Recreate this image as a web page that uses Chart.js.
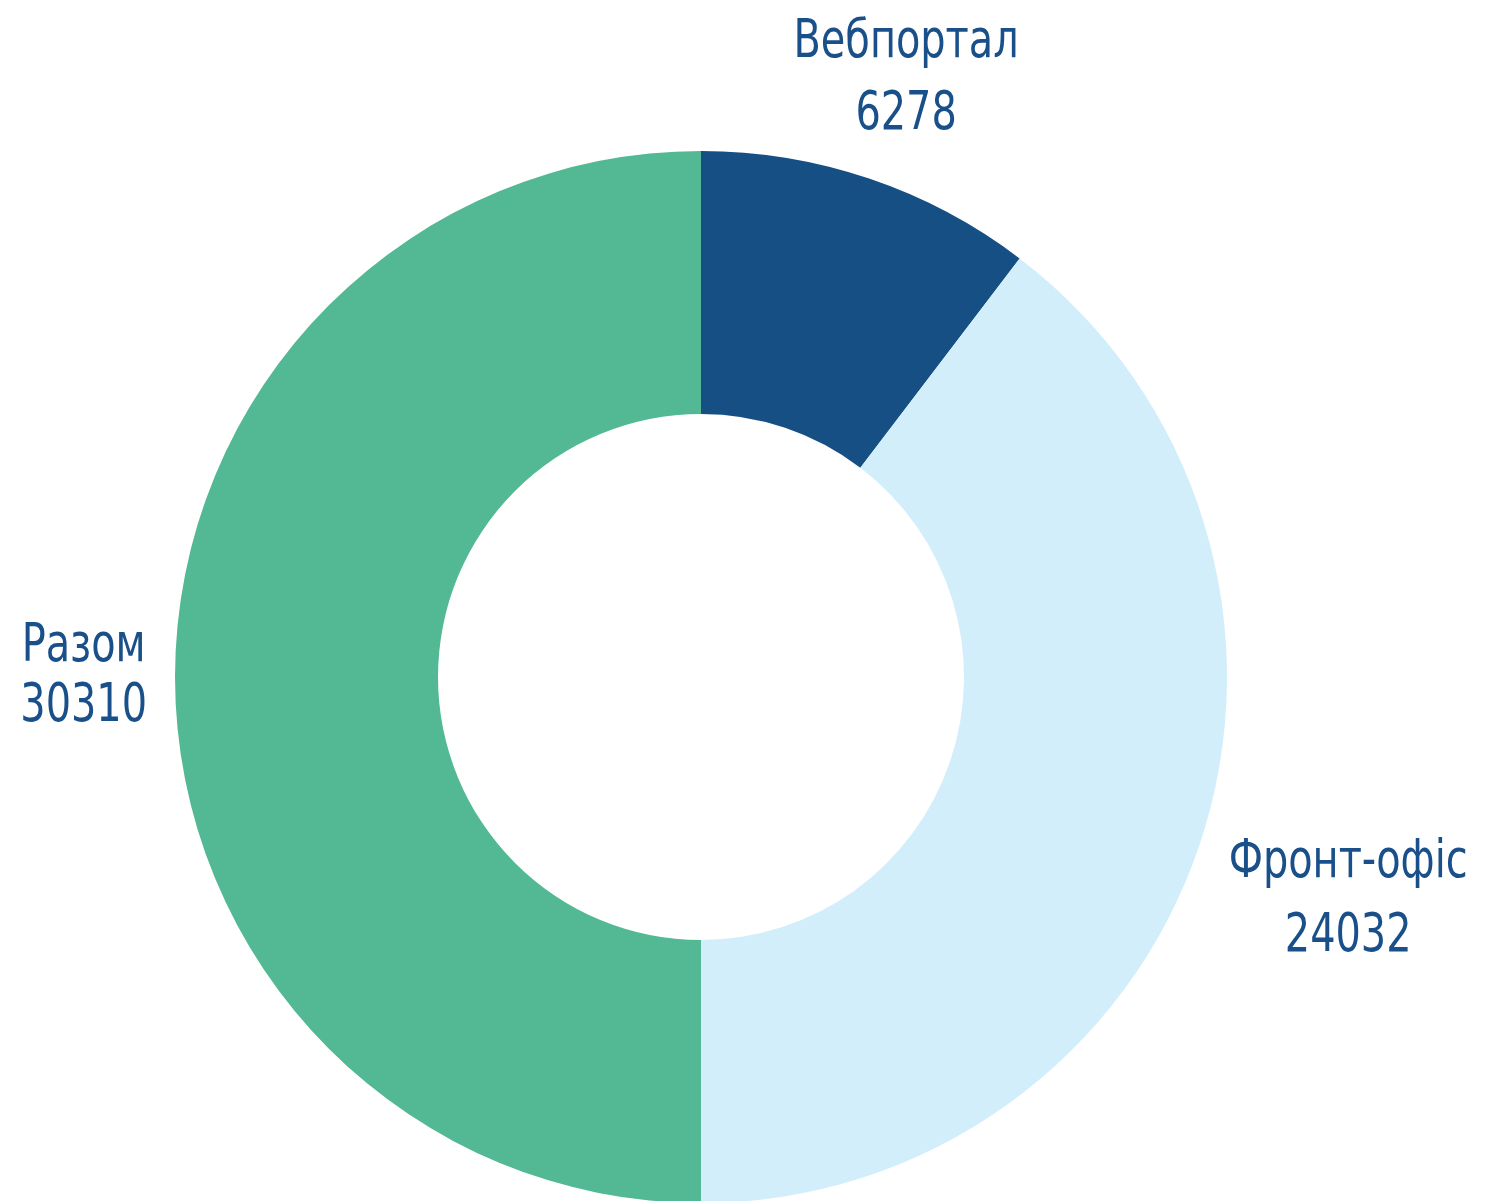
<!DOCTYPE html>
<html>
<head>
<meta charset="utf-8">
<script src="https://cdn.jsdelivr.net/npm/chart.js@4.4.0/dist/chart.umd.min.js"></script>
<style>
  html, body { margin: 0; padding: 0; background: #fff; overflow: hidden; }
  #wrap { width: 1491px; height: 1210px; }
</style>
</head>
<body>
<div id="wrap"><canvas id="donut"></canvas></div>
<script>
var labels = ["Вебпортал", "Фронт-офіс", "Разом"];
var values = [6278, 24032, 30310];
var colors = ['#154f83', '#d2eefb', '#52b994'];

// label block tweaks: nudge [dx, dy] and line spacing, px
var labelNudge = [[-8, -22], [9, 28], [0, 0]];
var lineGap = [72, 74, 60];

var FONT = '54px "DejaVu Sans Condensed", "DejaVu Sans", sans-serif';
var SQUEEZE = 0.82; // narrow the glyphs to look like a condensed face

var outsideLabels = {
    id: 'outsideLabels',
    afterDatasetsDraw: function(chart) {
        var ctx = chart.ctx;
        var meta = chart.getDatasetMeta(0);
        ctx.save();
        ctx.font = FONT;
        ctx.fillStyle = '#1a508a';
        ctx.textAlign = 'center';
        ctx.textBaseline = 'middle';
        meta.data.forEach(function(arc, i) {
            var p = arc.getProps(['x', 'y', 'startAngle', 'endAngle', 'outerRadius'], true);
            var mid = (p.startAngle + p.endAngle) / 2;
            var dx = Math.cos(mid), dy = Math.sin(mid);
            var l1 = labels[i], l2 = String(values[i]);
            var w = Math.max(ctx.measureText(l1).width, ctx.measureText(l2).width) * SQUEEZE;
            var lineH = lineGap[i];
            var h = lineH * 2;
            var r = p.outerRadius + 28;
            var cx = p.x + dx * r + dx * w / 2 + labelNudge[i][0];
            var cy = p.y + dy * r + dy * h / 2 * 0.75 + labelNudge[i][1];
            ctx.save();
            ctx.scale(SQUEEZE, 1);
            ctx.fillText(l1, cx / SQUEEZE, cy - lineH / 2);
            ctx.fillText(l2, cx / SQUEEZE, cy + lineH / 2);
            ctx.restore();
        });
        ctx.restore();
    }
};

var chart = new Chart(document.getElementById('donut'), {
    type: 'doughnut',
    data: {
        labels: labels,
        datasets: [{
            data: values,
            backgroundColor: colors,
            borderWidth: 0
        }]
    },
    options: {
        responsive: true,
        maintainAspectRatio: false,
        animation: false,
        cutout: '50%',
        layout: { padding: { left: 175, right: 264, top: 151, bottom: 7 } },
        plugins: {
            legend: { display: false },
            tooltip: { enabled: false }
        }
    },
    plugins: [outsideLabels]
});
</script>
</body>
</html>
